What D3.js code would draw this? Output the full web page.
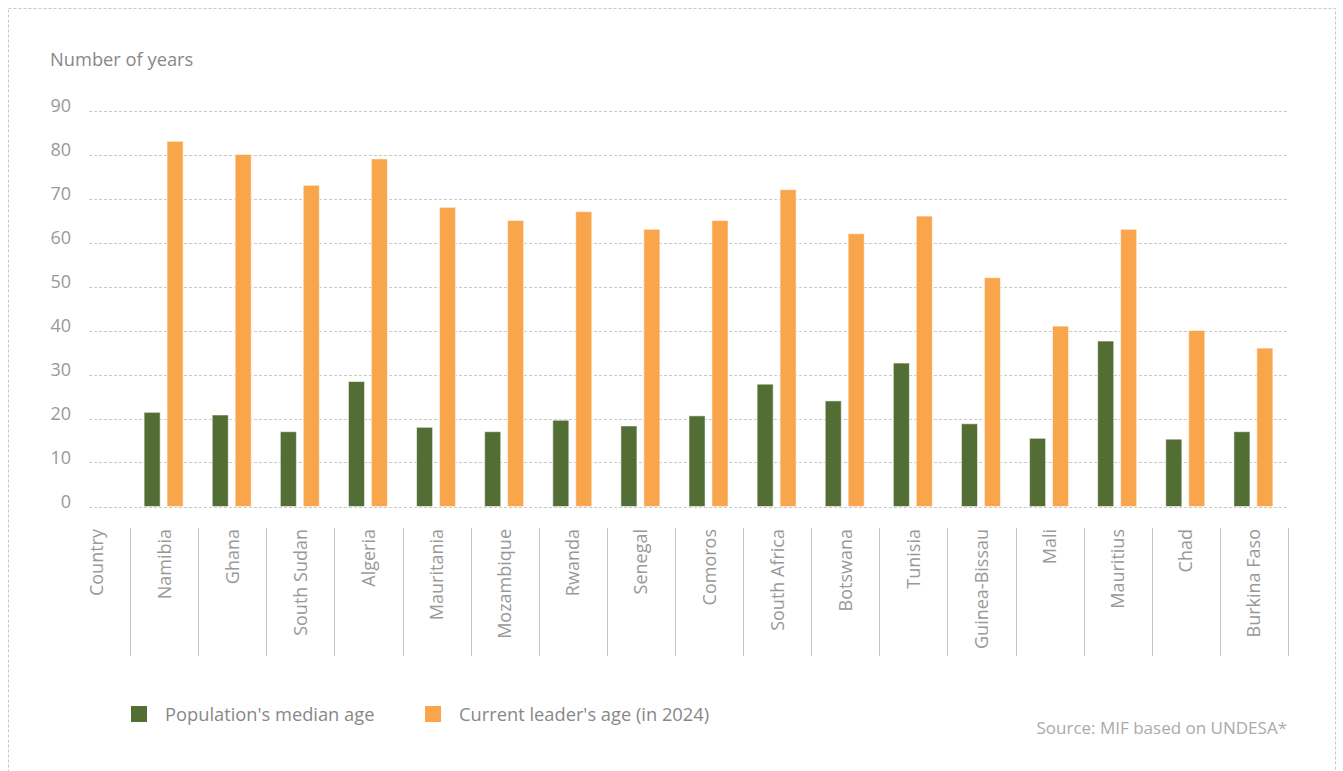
<!DOCTYPE html>
<html>
<head>
<meta charset="utf-8">
<script src="https://cdn.jsdelivr.net/npm/d3@7"></script>
<style>
  html, body { margin: 0; padding: 0; background: #fff; }
  svg { display: block; font-family: "Open Sans", sans-serif; }
</style>
</head>
<body>
<svg id="chart" width="1343" height="771"></svg>
<script>
const countries = ["Namibia", "Ghana", "South Sudan", "Algeria", "Mauritania", "Mozambique", "Rwanda", "Senegal", "Comoros", "South Africa", "Botswana", "Tunisia", "Guinea-Bissau", "Mali", "Mauritius", "Chad", "Burkina Faso"];
const medianAge = [21.4, 20.8, 17.0, 28.4, 18.0, 17.0, 19.6, 18.3, 20.6, 27.8, 24.0, 32.6, 18.8, 15.5, 37.6, 15.3, 17.0];
const leaderAge = [83, 80, 73, 79, 68, 65, 67, 63, 65, 72, 62, 66, 52, 41, 63, 40, 36];
const seriesNames = ["Population's median age", "Current leader's age (in 2024)"];
const seriesColors = ["#536e34", "#f9a54b"];
const yTicks = [0, 10, 20, 30, 40, 50, 60, 70, 80, 90];
const headerLabel = "Country";
const yTitle = "Number of years";
const sourceText = "Source: MIF based on UNDESA*";

const svg = d3.select("#chart");

// outer dashed frame
svg.append("rect")
  .attr("x", 8.5).attr("y", 8.5).attr("width", 1327).attr("height", 780)
  .attr("fill", "none").attr("stroke", "#c8c8c8").attr("stroke-dasharray", "3,2");

const x = d3.scaleBand().domain([headerLabel, ...countries]).range([62, 1288]).padding(0);
const xs = d3.scaleBand().domain(seriesNames).range([14, 53]).paddingInner(0.3);
const y = d3.scaleLinear().domain([0, 90]).range([506.5, 110.5]);

// gridlines
svg.append("g").selectAll("line").data(yTicks).join("line")
  .attr("x1", 89).attr("x2", 1288)
  .attr("y1", d => Math.round(y(d)) + 0.5).attr("y2", d => Math.round(y(d)) + 0.5)
  .attr("stroke", "#c9c9c9").attr("stroke-dasharray", "3,2");

// y tick labels
svg.append("g").selectAll("text").data(yTicks).join("text")
  .attr("x", 71).attr("y", d => y(d) + 1.5)
  .attr("text-anchor", "end")
  .attr("font-size", 18).attr("fill", "#999")
  .text(d => d);

// y title
svg.append("text").attr("x", 50).attr("y", 66)
  .attr("font-size", 18.3).attr("fill", "#888").text(yTitle);

// bars
const rows = countries.map((c, i) => ({ c, vals: [medianAge[i], leaderAge[i]] }));
const groups = svg.append("g").selectAll("g").data(rows).join("g")
  .attr("transform", d => `translate(${x(d.c)},0)`);
groups.selectAll("rect").data(d => d.vals.map((v, j) => ({ v, s: seriesNames[j], j })))
  .join("rect")
  .attr("x", d => xs(d.s)).attr("width", xs.bandwidth())
  .attr("y", d => y(d.v)).attr("height", d => y(0) - y(d.v))
  .attr("fill", d => seriesColors[d.j])
  .attr("stroke", "rgba(255,255,255,0.55)").attr("stroke-width", 1);

// category separators
const seps = countries.map(c => x(c));
seps.push(x.range()[1]);
svg.append("g").selectAll("line").data(seps).join("line")
  .attr("x1", d => Math.round(d) + 0.5).attr("x2", d => Math.round(d) + 0.5)
  .attr("y1", 528).attr("y2", 656)
  .attr("stroke", "#c4c4c4").attr("stroke-width", 1);

// category labels (rotated)
svg.append("g").selectAll("text").data([headerLabel, ...countries]).join("text")
  .attr("transform", d => `translate(${x(d) + x.bandwidth() / 2 + 6.5},529) rotate(-90)`)
  .attr("text-anchor", "end")
  .attr("font-size", 18).attr("fill", "#999")
  .text(d => d);

// legend
const legendX = [131, 425];
const leg = svg.append("g").selectAll("g").data(seriesNames).join("g")
  .attr("transform", (d, i) => `translate(${legendX[i]},706)`);
leg.append("rect").attr("width", 16).attr("height", 16)
  .attr("fill", (d, i) => seriesColors[i]);
leg.append("text").attr("x", 34).attr("y", 15)
  .attr("font-size", 18.3).attr("fill", "#888").text(d => d);

// source
svg.append("text").attr("x", 1287).attr("y", 734)
  .attr("text-anchor", "end").attr("font-size", 17).attr("fill", "#aaa")
  .text(sourceText);
</script>
</body>
</html>
